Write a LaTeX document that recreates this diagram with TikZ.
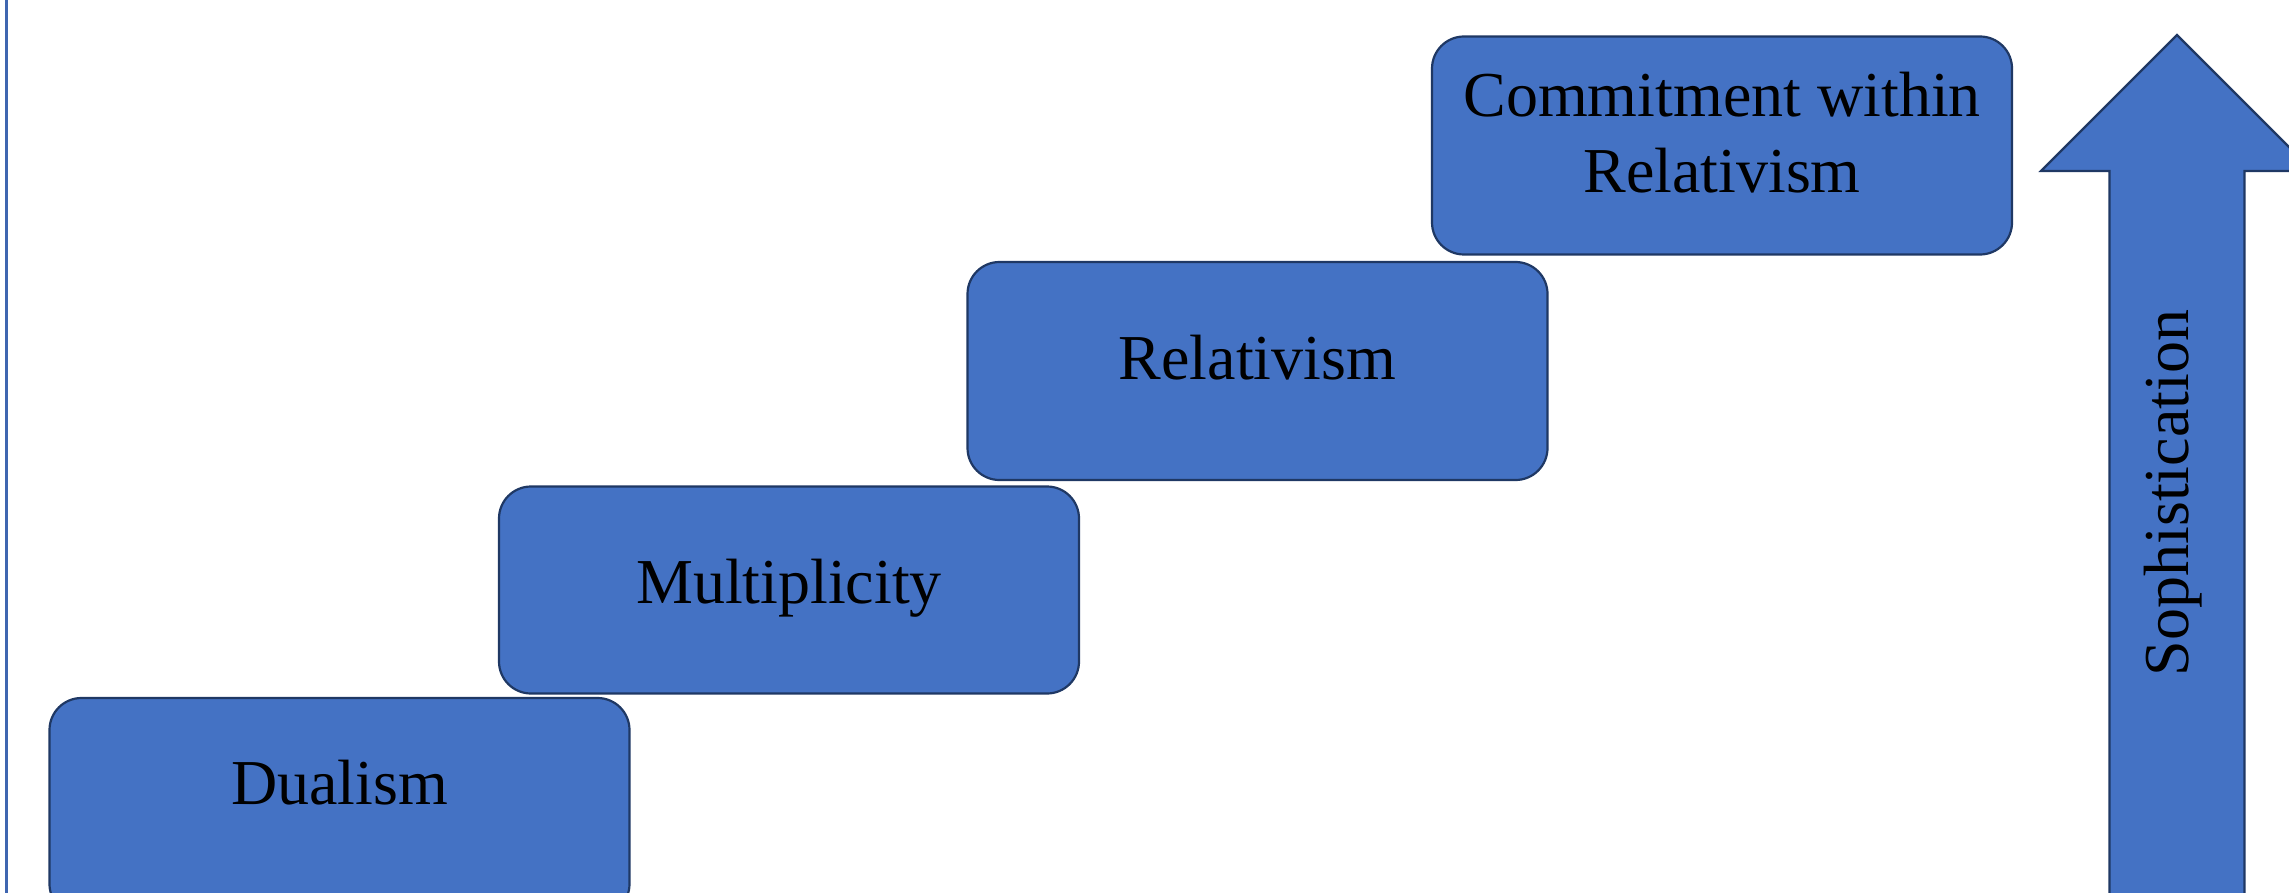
\documentclass[tikz,border=0pt]{standalone}
\usepackage{fontspec}
\setmainfont{Liberation Serif}
\definecolor{boxfill}{HTML}{4472C4}
\definecolor{boxline}{HTML}{1F3864}
\definecolor{sideline}{HTML}{3F66B0}
\newcommand{\stagetext}[2]{\raisebox{#1}[0pt][0pt]{#2}}
\tikzset{
  stage/.style={draw=boxline, line width=1.1pt, fill=boxfill, rounded corners=16pt,
    minimum width=290pt, minimum height=109pt, inner sep=0pt, align=center,
    font=\fontsize{32}{38}\selectfont, text=black},
  bigarrow/.style={draw=boxline, line width=1.1pt, fill=boxfill, line join=miter},
}
\begin{document}
\begin{tikzpicture}[x=0.5pt,y=-0.5pt]
\useasboundingbox (0,0) rectangle (2289,893);
\clip (0,0) rectangle (2289,893);
\draw[sideline, line width=1.5pt] (6,-5) -- (6,900);
\node[stage] (dual) at (339.5,807) {\stagetext{1.5pt}{Dualism}};
\node[stage, minimum height=103.5pt] (mult) at (789,590) {\stagetext{-6.6pt}{Multiplicity}};
\node[stage] (rel) at (1257.5,371) {\stagetext{-4pt}{Relativism}};
\node[stage] (com) at (1722,145.5) {\stagetext{-23.7pt}{\begin{tabular}[b]{@{}c@{}}Commitment within\\Relativism\end{tabular}}};
\draw[bigarrow] (2177,35) -- (2313,171) -- (2244.5,171) -- (2244.5,960)
  -- (2109.5,960) -- (2109.5,171) -- (2041,171) -- cycle;
\node[rotate=90, font=\fontsize{32}{38}\selectfont, text=black] (soph) at (2173,493) {Sophistication};
\end{tikzpicture}
\end{document}
